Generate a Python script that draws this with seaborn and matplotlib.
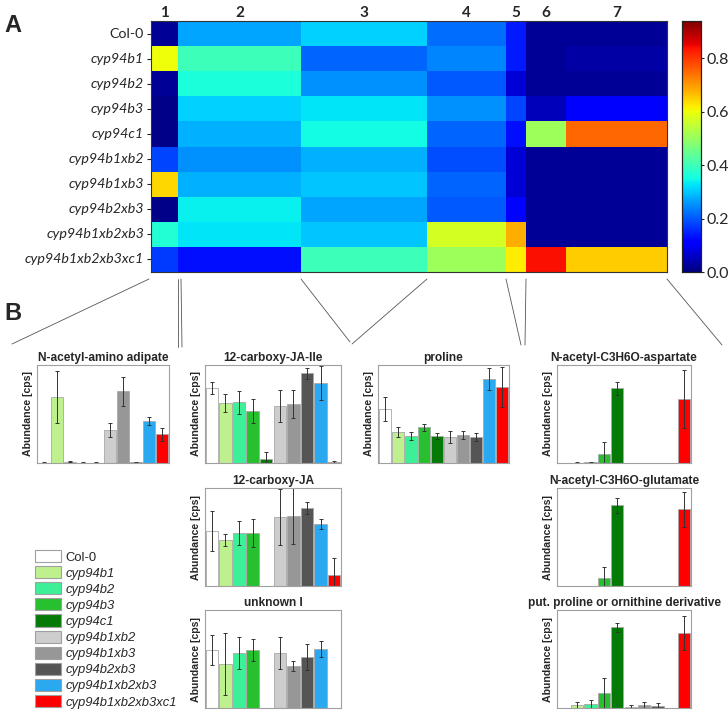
import numpy as np
import pandas as pd
import matplotlib
matplotlib.use('Agg')
import matplotlib.pyplot as plt
import seaborn as sns
from matplotlib.patches import Patch
from matplotlib.lines import Line2D

# --- data -------------------------------------------------------------
genotypes = ['Col-0', 'cyp94b1', 'cyp94b2', 'cyp94b3', 'cyp94c1',
             'cyp94b1xb2', 'cyp94b1xb3', 'cyp94b2xb3',
             'cyp94b1xb2xb3', 'cyp94b1xb2xb3xc1']
clusters = ['1', '2', '3', '4', '5', '6', '7']

# cluster means (rows = genotypes, cols = clusters 1..7)
heat = [
    [0.02, 0.27, 0.31, 0.22, 0.14, 0.02, 0.02],
    [0.60, 0.40, 0.21, 0.24, 0.14, 0.02, 0.03],
    [0.02, 0.36, 0.25, 0.20, 0.07, 0.02, 0.02],
    [0.01, 0.31, 0.33, 0.25, 0.18, 0.05, 0.11],
    [0.01, 0.28, 0.35, 0.21, 0.13, 0.51, 0.75],
    [0.18, 0.25, 0.28, 0.19, 0.07, 0.02, 0.02],
    [0.64, 0.28, 0.30, 0.21, 0.07, 0.02, 0.02],
    [0.01, 0.34, 0.27, 0.20, 0.12, 0.02, 0.02],
    [0.37, 0.33, 0.30, 0.57, 0.68, 0.02, 0.02],
    [0.17, 0.13, 0.40, 0.51, 0.62, 0.84, 0.65],
]

# bar panels: mean and error per genotype (arbitrary cps units)
adipate_mean = [0.5, 66, 1.5, 0.3, 0.5, 33, 72, 1, 42, 29]
adipate_err = [0.5, 26, 0.5, 0.3, 0.3, 7, 14.5, 0.5, 4, 6.5]
jaile_mean = [75, 60, 61, 52, 4, 57, 59, 90, 80, 1]
jaile_err = [6, 9, 11.5, 12, 7, 16, 14, 5.5, 17, 1]
cja_mean = [55, 46, 53, 53, 0, 69, 70, 78, 62, 11]
cja_err = [20, 6, 12, 14, 0, 28, 28, 6, 5, 17]
unk_mean = [58, 44, 55, 58, 0, 55, 42, 51, 59, 0]
unk_err = [15, 31, 16, 11, 0, 16, 5, 13, 8, 0]
proline_mean = [54, 31, 27, 36, 27, 26, 28, 26, 84, 76]
proline_err = [12, 5, 4, 3.5, 3, 6, 4, 4, 11, 20]
asp_mean = [0, 0.3, 0.6, 9, 75, 0, 0, 0, 0, 64]
asp_err = [0, 0.3, 0.4, 12, 6.5, 0, 0, 0, 0, 29]
glu_mean = [0, 0, 0, 8, 81, 0, 0, 0, 0, 77]
glu_err = [0, 0, 0, 11, 7.5, 0, 0, 0, 0, 17.5]
deriv_mean = [0, 3, 4, 15, 81, 1, 3, 2, 0, 75]
deriv_err = [0, 3, 4, 15, 4.5, 2, 3, 3, 0, 17]

# --- style --------------------------------------------------------------
sns.set_theme(style='white')
plt.rcParams['font.family'] = ['Liberation Sans', 'DejaVu Sans']

bar_colors = ['#ffffff', '#bff08e', '#3df098', '#27c02f', '#067a06',
              '#cdcdcd', '#979797', '#555555', '#2ba9f0', '#ff0000']
col_widths = [27, 123, 126, 79, 20, 40, 101]

W, H = 728, 712
fig = plt.figure(figsize=(W / 100, H / 100), dpi=100)


def px_axes(l, t, r, b):
    return fig.add_axes([l / W, 1 - b / H, (r - l) / W, (b - t) / H])


# --- panel A: heatmap ----------------------------------------------------
hax = px_axes(151, 21, 667, 272)
cax = px_axes(682, 21, 701, 272)
mat = pd.DataFrame(np.repeat(np.array(heat), col_widths, axis=1), index=genotypes)
sns.heatmap(mat, cmap='jet', vmin=0, vmax=0.94, ax=hax, cbar_ax=cax,
            xticklabels=False, yticklabels=genotypes, linewidths=0,
            rasterized=True)
for s in hax.spines.values():
    s.set_visible(True)
    s.set_color('#333333')
    s.set_linewidth(0.8)
edges = np.concatenate([[0], np.cumsum(col_widths)])
hax.set_xticks((edges[:-1] + edges[1:]) / 2)
hax.set_xticklabels(clusters, fontsize=11, fontweight='bold', family=['Lato'])
hax.xaxis.tick_top()
hax.tick_params(axis='x', length=0, pad=1)
hax.tick_params(axis='y', length=3, width=0.8, color='#222222', left=True, pad=2)
hax.set_ylabel('')
for i, t in enumerate(hax.get_yticklabels()):
    t.set_family(['Lato'])
    t.set_fontsize(10.3)
    t.set_rotation(0)
    if i > 0:
        t.set_style('italic')

cax.set_yticks([0, 0.2, 0.4, 0.6, 0.8])
cax.set_yticklabels(['0.0', '0.2', '0.4', '0.6', '0.8'], family=['Lato'], fontsize=11.5)
cax.tick_params(length=2.5, width=0.8, pad=1.5)
for s in cax.spines.values():
    s.set_visible(True)
    s.set_color('#222222')
    s.set_linewidth(0.8)

# --- panel B: bar charts ------------------------------------------------
panels = [
    ('N-acetyl-amino adipate', adipate_mean, adipate_err, (37, 365, 169, 463)),
    ('12-carboxy-JA-Ile', jaile_mean, jaile_err, (205, 365, 341, 463)),
    ('12-carboxy-JA', cja_mean, cja_err, (205, 488, 341, 586)),
    ('unknown I', unk_mean, unk_err, (205, 610, 341, 708)),
    ('proline', proline_mean, proline_err, (378, 365, 509, 463)),
    ('N-acetyl-C3H6O-aspartate', asp_mean, asp_err, (557, 365, 691, 463)),
    ('N-acetyl-C3H6O-glutamate', glu_mean, glu_err, (557, 488, 691, 586)),
    ('put. proline or ornithine derivative', deriv_mean, deriv_err, (557, 610, 691, 708)),
]

for title, means, errs, box in panels:
    ax = px_axes(*box)
    sns.barplot(x=genotypes, y=means, hue=genotypes, palette=bar_colors,
                legend=False, ax=ax, width=0.92, edgecolor='#a8a8a8',
                linewidth=0.6, saturation=1)
    ax.errorbar(range(len(means)), means, yerr=errs, fmt='none',
                ecolor='#333333', elinewidth=0.7, capsize=1.5, capthick=0.7)
    ax.set_xlim(-0.5, 9.5)
    ax.set_ylim(0, 98)
    ax.set_xticks([])
    ax.set_yticks([])
    ax.set_title(title, fontsize=8.6, fontweight='bold', pad=3)
    ax.set_ylabel('Abundance [cps]', fontsize=7.6, fontweight='bold', labelpad=3)
    for s in ax.spines.values():
        s.set_visible(True)
        s.set_color('#a0a0a0')
        s.set_linewidth(0.8)

# legend
handles = [Patch(facecolor=c, edgecolor='#a0a0a0', linewidth=0.8) for c in bar_colors]
leg = fig.legend(handles, genotypes, loc='upper left',
                 bbox_to_anchor=(35 / W, 1 - 550 / H), frameon=False,
                 fontsize=9.4, handlelength=2.0, handleheight=1.05,
                 labelspacing=0.2, handletextpad=0.35, borderpad=0,
                 borderaxespad=0)
for i, t in enumerate(leg.get_texts()):
    if i > 0:
        t.set_style('italic')

# zoom lines from heatmap clusters to the bar panels
zoom_lines = [
    ((149, 279), (12, 344)),
    ((178, 279), (178, 347)),
    ((181, 279), (182, 347)),
    ((301, 279), (350, 342)),
    ((427, 279), (352, 344)),
    ((506, 279), (521, 345)),
    ((526, 279), (525, 345)),
    ((667, 279), (722, 345)),
]
for (x0, y0), (x1, y1) in zoom_lines:
    fig.add_artist(Line2D([x0 / W, x1 / W], [1 - y0 / H, 1 - y1 / H],
                          transform=fig.transFigure, color='#555555', lw=0.6))

fig.text(4 / W, 1 - 26 / H, 'A', fontsize=17, fontweight='bold', va='center')
fig.text(4 / W, 1 - 313 / H, 'B', fontsize=17, fontweight='bold', va='center')

fig.savefig('out.png', dpi=100)
